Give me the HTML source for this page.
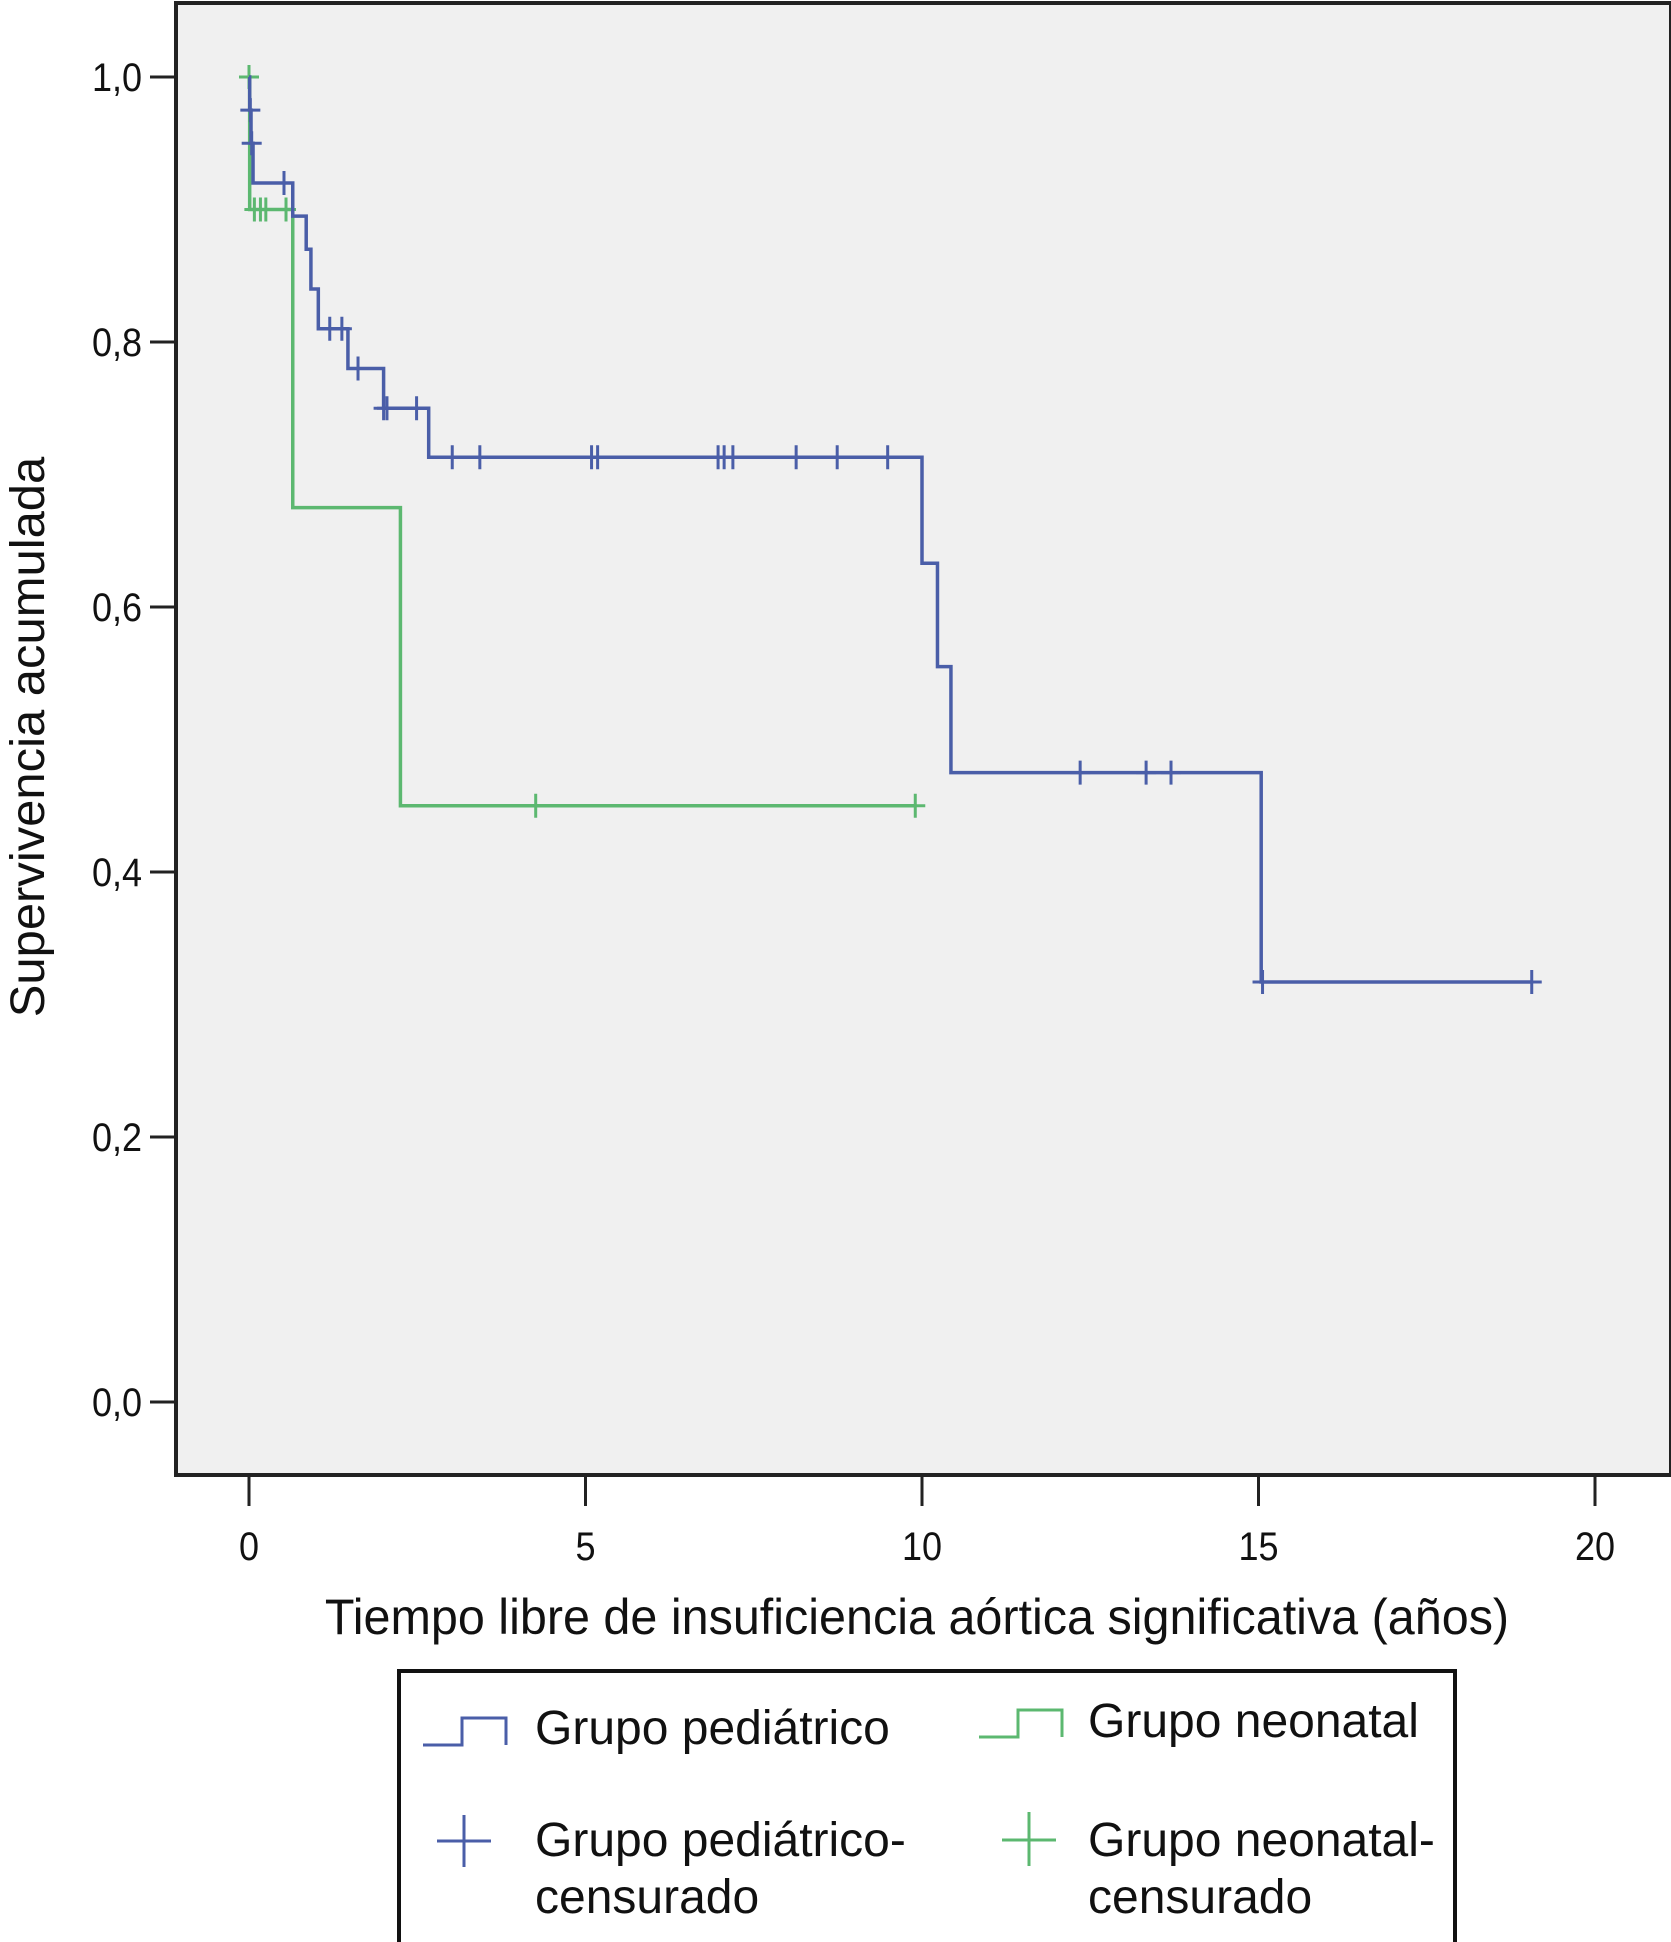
<!DOCTYPE html>
<html><head><meta charset="utf-8"><style>
html,body{margin:0;padding:0;background:#fff;}
svg{display:block;}
text{font-family:"Liberation Sans",Arial,sans-serif;fill:#111;}
</style></head><body>
<svg id="chart" width="1671" height="1942" viewBox="0 0 1671 1942">
<rect x="176" y="3" width="1495" height="1472" fill="#f0f0f0" stroke="#222" stroke-width="4"/>
<g id="axes"></g>
<g id="series"></g>
<text x="0" y="0" font-size="48" text-anchor="middle" transform="translate(44,737) rotate(-90) scale(1.02,1)">Supervivencia acumulada</text>
<text x="0" y="0" font-size="50" text-anchor="middle" transform="translate(917,1634) scale(0.97,1)">Tiempo libre de insuficiencia aórtica significativa (años)</text>
<g>
<rect x="399" y="1671" width="1056" height="275" fill="#fff" stroke="#111" stroke-width="4"/>
<path d="M423,1745 H462 V1718 H506 V1745" fill="none" stroke="#4a5ea8" stroke-width="3"/>
<text x="0" y="0" font-size="48" transform="translate(535,1744)">Grupo pediátrico</text>
<path d="M979,1737 H1018 V1710 H1062 V1737" fill="none" stroke="#5cb870" stroke-width="3"/>
<text x="0" y="0" font-size="48" transform="translate(1088,1737)">Grupo neonatal</text>
<path d="M464,1815 V1867 M437,1841 H491" stroke="#4a5ea8" stroke-width="3"/>
<text x="0" y="0" font-size="48" transform="translate(535,1856)">Grupo pediátrico-</text>
<text x="0" y="0" font-size="48" transform="translate(535,1913)">censurado</text>
<path d="M1029,1812 V1866 M1002,1840 H1056" stroke="#5cb870" stroke-width="3"/>
<text x="0" y="0" font-size="48" transform="translate(1088,1856)">Grupo neonatal-</text>
<text x="0" y="0" font-size="48" transform="translate(1088,1913)">censurado</text>
</g>
</svg>
<script>
const xTicks = [0, 5, 10, 15, 20];
const yTicks = [0, 0.2, 0.4, 0.6, 0.8, 1.0];
const yTickLabels = ["0,0", "0,2", "0,4", "0,6", "0,8", "1,0"];
const pedTimes = [0, 0.01, 0.03, 0.06, 0.65, 0.85, 0.92, 1.03, 1.47, 2.0, 2.67, 10.0, 10.23, 10.43, 15.04];
const pedSurv = [1.0, 0.975, 0.95, 0.92, 0.895, 0.87, 0.84, 0.81, 0.78, 0.75, 0.713, 0.633, 0.555, 0.475, 0.317];
const pedEnd = 19.06;
const pedCensorT = [0.02, 0.04, 0.52, 1.2, 1.38, 1.62, 2.0, 2.05, 2.49, 3.02, 3.43, 5.09, 5.18, 6.97, 7.06, 7.19, 8.13, 8.74, 9.49, 12.35, 13.33, 13.7, 15.06, 19.06];
const pedCensorS = [0.975, 0.95, 0.92, 0.81, 0.81, 0.78, 0.75, 0.75, 0.75, 0.713, 0.713, 0.713, 0.713, 0.713, 0.713, 0.713, 0.713, 0.713, 0.713, 0.475, 0.475, 0.475, 0.317, 0.317];
const neoTimes = [0, 0.01, 0.65, 2.25];
const neoSurv = [1.0, 0.9, 0.675, 0.45];
const neoEnd = 9.92;
const neoCensorT = [0.0, 0.08, 0.17, 0.25, 0.55, 4.26, 9.9];
const neoCensorS = [1.0, 0.9, 0.9, 0.9, 0.9, 0.45, 0.45];

const NS = "http://www.w3.org/2000/svg";
function xs(t){ return 249 + t * (1595 - 249) / 20; }
function ys(v){ return 1402 - v * (1402 - 77); }
function mk(tag, attrs, parent){
  const e = document.createElementNS(NS, tag);
  for (const k in attrs) e.setAttribute(k, attrs[k]);
  parent.appendChild(e); return e;
}
const axes = document.getElementById('axes');
xTicks.forEach(function(t){
  const l = mk('line', {x1: xs(t), x2: xs(t), y1: 1476, y2: 1506, stroke: '#222', 'stroke-width': 3}, axes);
  
  
  const tx = mk('text', {x: 0, y: 0, 'font-size': 40, 'text-anchor': 'middle', transform: 'translate(' + xs(t) + ',1560) scale(0.9,1)'}, axes);
  tx.textContent = String(t);
  
  
});
yTicks.forEach(function(v, i){
  const l = mk('line', {x1: 150, x2: 176, y1: ys(v), y2: ys(v), stroke: '#222', 'stroke-width': 3}, axes);
  
  
  const tx = mk('text', {x: 0, y: 0, 'font-size': 40, 'text-anchor': 'end', transform: 'translate(142,' + (ys(v) + 14) + ') scale(0.9,1)'}, axes);
  tx.textContent = yTickLabels[i];
  
  
});
const series = document.getElementById('series');
function stepPath(times, surv, end){
  let d = 'M' + xs(times[0]) + ',' + ys(surv[0]);
  for (let i = 1; i < times.length; i++){
    d += ' H' + xs(times[i]) + ' V' + ys(surv[i]);
  }
  d += ' H' + xs(end);
  return d;
}
function drawCurve(times, surv, end, ct, cs, color, name){
  const p = mk('path', {d: stepPath(times, surv, end), fill: 'none', stroke: color, 'stroke-width': 3.5}, series);
  
  
  ct.forEach(function(t, i){
    const x = xs(t), y = ys(cs[i]);
    const c = mk('path', {d: 'M' + x + ',' + (y - 12) + ' V' + (y + 12) + ' M' + (x - 10) + ',' + y + ' H' + (x + 10), stroke: color, 'stroke-width': 3}, series);
    
    
  });
}
drawCurve(neoTimes, neoSurv, neoEnd, neoCensorT, neoCensorS, '#5cb870', 'neonatal');
drawCurve(pedTimes, pedSurv, pedEnd, pedCensorT, pedCensorS, '#4a5ea8', 'pediatric');
</script>
</body></html>
